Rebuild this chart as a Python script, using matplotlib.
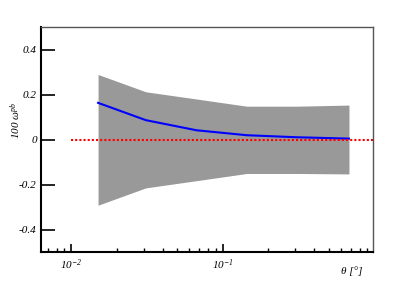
import matplotlib
matplotlib.use("Agg")
import matplotlib.pyplot as plt
import numpy as np
from matplotlib.ticker import FixedLocator, FixedFormatter, NullFormatter

plt.rcParams['font.family'] = ['Liberation Serif', 'DejaVu Serif']
plt.rcParams['font.style'] = 'italic'
plt.rcParams['mathtext.fontset'] = 'custom'
plt.rcParams['mathtext.rm'] = 'Liberation Serif:italic'
plt.rcParams['mathtext.it'] = 'Liberation Serif:italic'

# angle bins and band / central curve
theta = [0.015, 0.031, 0.067, 0.144, 0.307, 0.68]
upper = [0.289, 0.212, 0.180, 0.148, 0.148, 0.153]
lower = [-0.292, -0.215, -0.183, -0.151, -0.151, -0.153]
central = [0.163, 0.086, 0.041, 0.019, 0.010, 0.004]

fig = plt.figure(figsize=(4.15, 2.81), dpi=100)
ax = fig.add_axes([41 / 415, 29 / 281, 332 / 415, 225 / 281])

ax.fill_between(theta, lower, upper, color='#999999', linewidth=0)
ax.plot(theta, central, color='#0000ff', lw=1.5)
ax.plot([0.01, 0.98], [0, 0], color='#ff0000', ls=(0, (1, 1)), lw=1.5)

ax.set_xscale('log')
ax.set_xlim(0.0063, 0.98)
ax.set_ylim(-0.5, 0.5)

ax.xaxis.set_major_locator(FixedLocator([0.01, 0.1]))
ax.xaxis.set_major_formatter(FixedFormatter(['$10^{-2}$', '$10^{-1}$']))
minors = [k * 10.0 ** e for e in (-3, -2, -1) for k in range(2, 10)]
ax.xaxis.set_minor_locator(FixedLocator(minors))
ax.xaxis.set_minor_formatter(NullFormatter())

ax.set_yticks([-0.4, -0.2, 0, 0.2, 0.4])
ax.set_yticklabels(['-0.4', '-0.2', '0', '0.2', '0.4'])

ax.tick_params(axis='both', which='both', direction='in', top=False, right=False,
               labelsize=8, color='black')
ax.tick_params(axis='y', which='major', length=10, width=1.2, pad=3)
ax.tick_params(axis='x', which='major', length=6, width=1.2, pad=4)
ax.tick_params(axis='x', which='minor', length=3, width=1.0)

for s in ('left', 'bottom'):
    ax.spines[s].set_linewidth(1.5)
    ax.spines[s].set_color('black')
for s in ('top', 'right'):
    ax.spines[s].set_linewidth(1.0)
    ax.spines[s].set_color('#555555')

ax.set_ylabel(r'100 $\omega^{pb}$', fontsize=8)
ax.yaxis.set_label_coords(-0.055, 0.587)
ax.set_xlabel('θ [°]', fontsize=8)
ax.xaxis.set_label_coords(0.967, -0.065)
ax.xaxis.label.set_horizontalalignment('right')

fig.savefig('out.png', dpi=100)
